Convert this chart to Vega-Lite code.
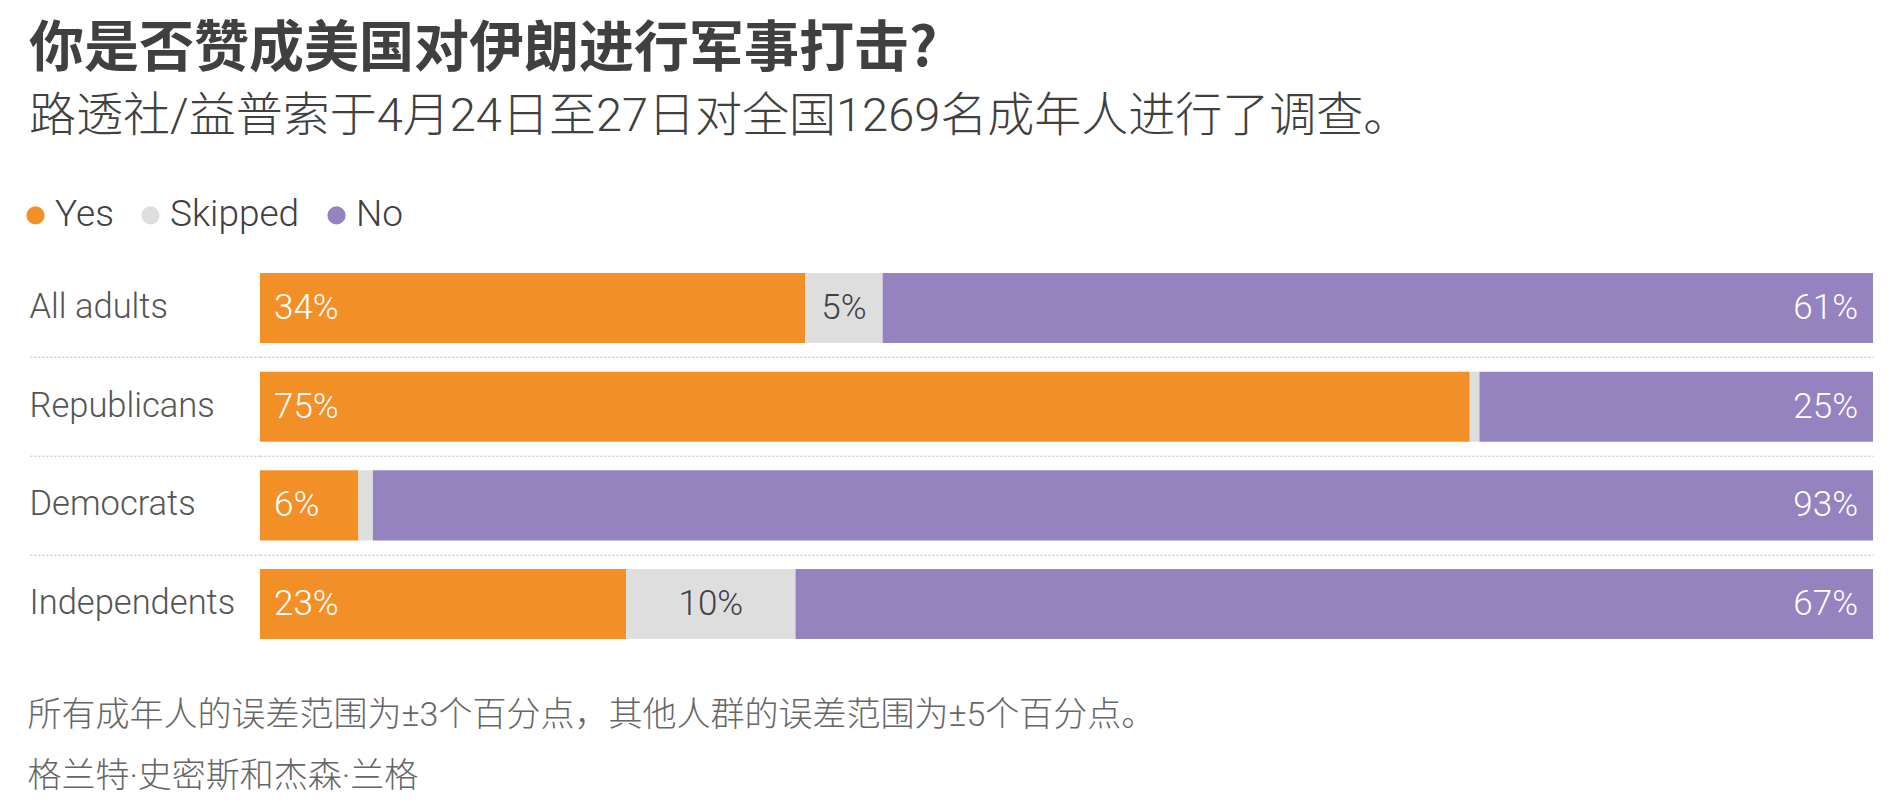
{
  "$schema": "https://vega.github.io/schema/vega-lite/v6.json",
  "autosize": "none",
  "width": 1613,
  "height": 394.7,
  "padding": {"left": 260, "top": 258.7, "right": 30, "bottom": 158.6},
  "background": "white",
  "config": {"view": {"stroke": null}},
  "title": {
    "text": "你是否赞成美国对伊朗进行军事打击?",
    "subtitle": "路透社/益普索于4月24日至27日对全国1269名成年人进行了调查。",
    "anchor": "start",
    "frame": "group",
    "dx": -231,
    "font": "Noto Sans CJK SC",
    "fontSize": 55,
    "fontWeight": "bold",
    "color": "#404040",
    "subtitleFont": "Roboto, Noto Sans CJK SC",
    "subtitleFontSize": 47,
    "subtitleFontWeight": 300,
    "subtitleColor": "#404040",
    "subtitlePadding": 16,
    "offset": 56
  },
  "data": {
    "values": [
      {"group": "All adults", "answer": "Yes", "pct": 33.8, "label": "34%"},
      {"group": "All adults", "answer": "Skipped", "pct": 4.8, "label": "5%"},
      {"group": "All adults", "answer": "No", "pct": 61.4, "label": "61%"},
      {"group": "Republicans", "answer": "Yes", "pct": 75, "label": "75%"},
      {"group": "Republicans", "answer": "Skipped", "pct": 0.6, "label": ""},
      {"group": "Republicans", "answer": "No", "pct": 24.4, "label": "25%"},
      {"group": "Democrats", "answer": "Yes", "pct": 6.1, "label": "6%"},
      {"group": "Democrats", "answer": "Skipped", "pct": 0.9, "label": ""},
      {"group": "Democrats", "answer": "No", "pct": 93, "label": "93%"},
      {"group": "Independents", "answer": "Yes", "pct": 22.7, "label": "23%"},
      {"group": "Independents", "answer": "Skipped", "pct": 10.5, "label": "10%"},
      {"group": "Independents", "answer": "No", "pct": 66.8, "label": "67%"}
    ]
  },
  "encoding": {
    "y": {
      "field": "group",
      "type": "nominal",
      "sort": ["All adults", "Republicans", "Democrats", "Independents"],
      "scale": {"paddingInner": 0.29, "paddingOuter": 0.145},
      "title": null,
      "axis": {
        "domain": false,
        "ticks": true,
        "tickSize": 231,
        "tickDash": [2, 2],
        "tickWidth": 1.5,
        "tickColor": {"condition": {"test": "datum.value === 'Independents'", "value": "transparent"}, "value": "#cfcfcf"},
        "grid": true,
        "gridDash": [2, 2],
        "gridWidth": 1.5,
        "gridColor": {"condition": {"test": "datum.value === 'Independents'", "value": "transparent"}, "value": "#cfcfcf"},
        "bandPosition": 1.204,
        "labelPadding": 0,
        "labelLimit": 0,
        "labelAlign": "left",
        "labelBaseline": "middle",
        "labelFont": "Roboto",
        "labelFontWeight": 300,
        "labelFontSize": 34.5,
        "labelColor": "#555555"
      }
    },
    "x": {
      "field": "pct",
      "type": "quantitative",
      "stack": "normalize",
      "scale": {"domain": [0, 1], "nice": false},
      "axis": {
        "domain": false,
        "ticks": false,
        "labels": false,
        "grid": false,
        "title": [
          "所有成年人的误差范围为±3个百分点，其他人群的误差范围为±5个百分点。",
          "格兰特·史密斯和杰森·兰格"
        ],
        "titleX": -233,
        "titleY": 62,
        "titleAlign": "left",
        "titleAnchor": "start",
        "titleBaseline": "middle",
        "titleLineHeight": 61,
        "titleFont": "Roboto, Noto Sans CJK SC",
        "titleFontSize": 34,
        "titleFontWeight": 300,
        "titleColor": "#666666"
      }
    },
    "order": {"field": "answer", "type": "ordinal", "sort": "descending"}
  },
  "layer": [
    {
      "mark": {"type": "bar"},
      "encoding": {
        "color": {
          "field": "answer",
          "type": "nominal",
          "scale": {"domain": ["Yes", "Skipped", "No"], "range": ["#f38f27", "#dedede", "#9583c0"]},
          "legend": {
            "title": null,
            "orient": "none",
            "direction": "horizontal",
            "legendX": -243,
            "legendY": -62,
            "symbolType": "circle",
            "symbolSize": 330,
            "symbolStrokeWidth": 0,
            "labelOffset": 1,
            "columnPadding": 18,
            "labelFont": "Roboto",
            "labelFontWeight": 300,
            "labelFontSize": 37,
            "labelColor": "#404040"
          }
        }
      }
    },
    {
      "mark": {"type": "text", "align": "left", "baseline": "middle", "dx": 14, "font": "Roboto", "fontWeight": 300, "fontSize": 35, "color": "white"},
      "encoding": {
        "x": {"field": "pct", "type": "quantitative", "stack": "normalize", "bandPosition": 0},
        "detail": {"field": "answer"},
        "text": {"condition": {"test": "datum.answer === 'Yes'", "field": "label"}, "value": ""}
      }
    },
    {
      "mark": {"type": "text", "align": "center", "baseline": "middle", "font": "Roboto", "fontWeight": 300, "fontSize": 35, "color": "#404040"},
      "encoding": {
        "x": {"field": "pct", "type": "quantitative", "stack": "normalize", "bandPosition": 0.5},
        "detail": {"field": "answer"},
        "text": {"condition": {"test": "datum.answer === 'Skipped'", "field": "label"}, "value": ""}
      }
    },
    {
      "mark": {"type": "text", "align": "right", "baseline": "middle", "dx": -15, "font": "Roboto", "fontWeight": 300, "fontSize": 35, "color": "white"},
      "encoding": {
        "x": {"field": "pct", "type": "quantitative", "stack": "normalize", "bandPosition": 1},
        "detail": {"field": "answer"},
        "text": {"condition": {"test": "datum.answer === 'No'", "field": "label"}, "value": ""}
      }
    }
  ]
}
